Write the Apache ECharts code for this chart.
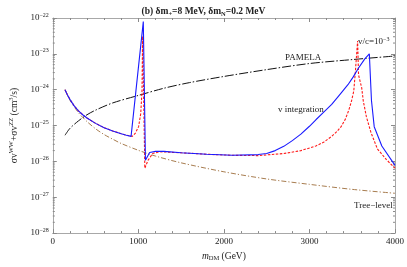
<!DOCTYPE html>
<html><head><meta charset="utf-8">
<script src="https://cdn.jsdelivr.net/npm/echarts@6/dist/echarts.min.js"></script>
<style>html,body{margin:0;padding:0;background:#fff}#c{width:407px;height:267px}</style>
</head><body><div id="c"></div>
<script>
// ---- data (mass in GeV, cross-section in cm^3/s) ----
const vintMass = [143,170,200,250,300,350,400,500,600,700,800,860,915,1058,1083,1132,1200,1300,1500,1800,2100,2400,2500,2600,2700,2800,2900,3000,3075,3170,3260,3350,3450,3510,3570,3647,3700,3725,3757,3846,4000];
const vintVal  = [1.0e-24,7.24e-25,5.37e-25,3.55e-25,2.57e-25,2.0e-25,1.62e-25,1.15e-25,8.71e-26,7.08e-26,5.89e-26,5.37e-26,5.0e-26,7.94e-23,1.07e-26,1.78e-26,1.9e-26,1.9e-26,1.74e-26,1.58e-26,1.48e-26,1.55e-26,1.66e-26,2.0e-26,2.63e-26,3.8e-26,5.75e-26,9.55e-26,1.45e-25,2.4e-25,3.89e-25,7.08e-25,1.38e-24,2.24e-24,3.89e-24,7.24e-24,1.0e-23,5.0e-25,9.3e-26,2.69e-26,7.76e-27];

const vcMass = [143,170,200,250,300,350,400,500,600,700,800,860,929,966,1003,1028,1043,1050,1076,1113,1168,1250,1500,1800,2100,2400,2700,2900,3075,3170,3260,3320,3370,3420,3460,3490,3518,3537,3563,3574,3611,3629,3666,3720,3794,3900,4000];
const vcVal  = [1.0e-24,7.24e-25,5.37e-25,3.55e-25,2.57e-25,2.0e-25,1.62e-25,1.15e-25,8.71e-26,7.08e-26,5.89e-26,5.37e-26,5.0e-26,6.17e-26,9.33e-26,2.14e-25,9.33e-25,3.09e-23,6.46e-27,1.07e-26,1.66e-26,1.86e-26,1.74e-26,1.58e-26,1.48e-26,1.45e-26,1.66e-26,2.0e-26,2.69e-26,3.47e-26,5.0e-26,6.76e-26,9.33e-26,1.51e-25,2.69e-25,4.68e-25,9.1e-25,3.24e-24,2.29e-23,2.57e-24,1.12e-24,4.9e-25,1.74e-25,6.3e-26,2.24e-26,1.12e-26,6.46e-27];

const treeMass = [143,200,300,400,500,600,700,800,1000,1200,1500,2000,2500,3000,3500,4000];
const treeVal  = [1.0e-24,5.13e-25,2.29e-25,1.29e-25,8.13e-26,5.62e-26,4.17e-26,3.16e-26,2.04e-26,1.41e-26,9.12e-27,5.13e-27,3.24e-27,2.29e-27,1.66e-27,1.29e-27];

const pamMass = [143,200,300,400,500,700,1000,1300,1600,2000,2500,3000,3500,4000];
const pamVal  = [5.37e-26,8.32e-26,1.35e-25,2.0e-25,2.69e-25,4.27e-25,6.92e-25,1.10e-24,1.58e-24,2.34e-24,3.63e-24,5.37e-24,6.92e-24,8.71e-24];

const xTicks = [0,1000,2000,3000,4000];
const yDecades = [-28,-27,-26,-25,-24,-23,-22];

// ECharts rounds values below ~1e-20 to zero, so plot in units of 1e-28 cm^3/s
const UNIT_EXP = -28;
const UNIT = 1e28;
const pair = (xs, ys) => xs.map((x,i) => [x, ys[i] * UNIT]);
const minorVals = [];
for (let d = 0; d < 6; d++) for (let k = 2; k <= 9; k++) minorVals.push(k * Math.pow(10, d));

const SERIF = 'Liberation Serif';
const frame = '#a8a8a8';
const tickC = '#8a8a8a';

const xBase = {
  type:'value', min:0, max:4000, interval:1000,
  axisLine:{show:true, onZero:false, lineStyle:{color:frame, width:1}},
  axisTick:{show:true, inside:true, length:4, lineStyle:{color:tickC}},
  minorTick:{show:true, splitNumber:5, length:2, lineStyle:{color:tickC}},
  splitLine:{show:false}
};
const yBase = {
  type:'log', logBase:10, min:1, max:1e6, splitNumber:6,
  axisLine:{show:true, onZero:false, lineStyle:{color:frame, width:1}},
  axisTick:{show:true, inside:true, length:4, lineStyle:{color:tickC}},
  splitLine:{show:false}
};

const chart = echarts.init(document.getElementById('c'), null, {renderer:'canvas'});
chart.setOption({
  animation:false,
  backgroundColor:'#fff',
  title:{
    text:'(b) δm{s|+}=8 MeV, δm{s|N}=0.2 MeV',
    left:'center', top:1,
    textStyle:{fontFamily:SERIF, fontSize:9.5, fontWeight:'bold', color:'#222',
      rich:{s:{fontFamily:SERIF, fontSize:6.5, fontWeight:'bold', color:'#222', padding:[5,0,0,0]}}}
  },
  grid:{left:34, right:10, top:18, bottom:26, containLabel:false},
  xAxis:[
    Object.assign({}, xBase, {position:'bottom',
      name:'{i|m}{s|DM} (GeV)', nameLocation:'middle', nameGap:15,
      nameTextStyle:{fontFamily:SERIF, fontSize:9.5, color:'#222',
        rich:{i:{fontFamily:SERIF, fontStyle:'italic', fontSize:9.5, color:'#222'},
              s:{fontFamily:SERIF, fontSize:6.5, color:'#222', padding:[5,0,0,0]}}},
      axisLabel:{show:true, fontFamily:SERIF, fontSize:9, color:'#222', margin:4,
        formatter: v => xTicks.includes(v) ? String(v) : ''}}),
    Object.assign({}, xBase, {position:'top', axisLabel:{show:false}})
  ],
  yAxis:[
    Object.assign({}, yBase, {position:'left',
      name:'σv{s|WW}+σv{s|ZZ} (cm{s|3}/s)', nameLocation:'middle', nameGap:22, nameRotate:90,
      nameTextStyle:{fontFamily:SERIF, fontSize:9.5, color:'#222',
        rich:{s:{fontFamily:SERIF, fontSize:6.5, color:'#222', padding:[0,0,6,0]}}},
      axisLabel:{show:true, margin:4, fontFamily:SERIF, fontSize:9, color:'#222',
        formatter: v => { const e = Math.round(Math.log10(v)) + UNIT_EXP; return yDecades.includes(e) ? '{b|10}{s|−' + Math.abs(e) + '}' : ''; },
        rich:{b:{fontFamily:SERIF, fontSize:9, color:'#222'},
              s:{fontFamily:SERIF, fontSize:6, color:'#222', padding:[0,0,6,0]}}}}),
    Object.assign({}, yBase, {position:'right', axisLabel:{show:false}})
  ],
  series:[
    {type:'custom', xAxisIndex:0, yAxisIndex:0, silent:true, clip:false,
      data: minorVals.map(v => [0, v]),
      renderItem:(params, api) => {
        const p = api.coord([0, api.value(1)]);
        const q = api.coord([4000, api.value(1)]);
        return {type:'group', children:[
          {type:'line', shape:{x1:p[0], y1:p[1], x2:p[0]+2, y2:p[1]}, style:{stroke:tickC, lineWidth:1}},
          {type:'line', shape:{x1:q[0]-2, y1:q[1], x2:q[0], y2:q[1]}, style:{stroke:tickC, lineWidth:1}}
        ]};
      }},
    {name:'Tree-level', type:'line', data:pair(treeMass, treeVal), showSymbol:false, smooth:0.3,
      lineStyle:{color:'#a87d50', width:1, type:[5,2,1.2,2]}},
    {name:'PAMELA', type:'line', data:pair(pamMass, pamVal), showSymbol:false, smooth:0.3,
      lineStyle:{color:'#111', width:1, type:[9,2,1.5,2]}},
    {name:'v/c=1e-3', type:'line', data:pair(vcMass, vcVal), showSymbol:false,
      lineStyle:{color:'#ff1a1a', width:1.1, type:[2.5,1.5]}},
    {name:'v integration', type:'line', data:pair(vintMass, vintVal), showSymbol:false,
      lineStyle:{color:'#1a1aff', width:1.1}}
  ],
  graphic:[
    {type:'text', left:285, top:53, style:{text:'PAMELA', font:'9px "Liberation Serif"', fill:'#222'}},
    {type:'text', left:358, top:36, style:{text:'v/c=10{s|−3}', font:'9px "Liberation Serif"', fill:'#222',
      rich:{s:{fontFamily:SERIF, fontSize:6, fill:'#222', padding:[0,0,5,0]}}}},
    {type:'text', left:278, top:105, style:{text:'v integration', font:'9px "Liberation Serif"', fill:'#222'}},
    {type:'text', left:354, top:201, style:{text:'Tree−level', font:'9px "Liberation Serif"', fill:'#222'}}
  ]
});
</script>
</body></html>
